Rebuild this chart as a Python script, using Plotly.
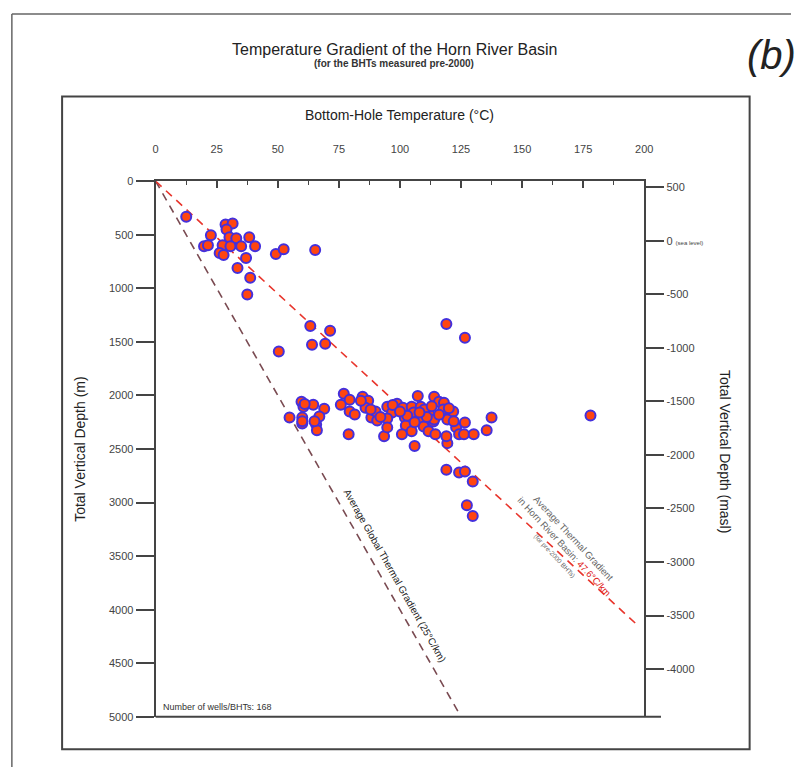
import plotly.graph_objects as go

# ---------------- data ----------------
temp_c = [
    12.5, 28.6, 31.5, 29.0, 22.6, 19.8, 21.4, 27.4, 30.2, 33.0, 38.3, 30.6, 35.0, 40.7,
    26.2, 27.8, 37.0, 33.5, 38.7, 37.5, 49.2, 52.4, 65.3,
    63.3, 71.4, 64.0, 69.4, 50.4, 119.0, 126.6, 178.0,
    54.8, 59.7, 60.5, 64.5, 69.0, 60.0, 60.0, 65.7, 66.0, 67.0, 77.0, 79.4, 75.8, 79.4,
    81.5, 79.0, 84.7, 87.0, 85.9, 88.3, 90.7, 94.8, 96.8, 94.8, 93.5, 94.8, 98.8, 101.2,
    102.0, 102.4, 100.8, 104.8, 105.6, 104.8, 106.0, 107.3, 108.5, 108.0, 109.7, 112.0,
    111.7, 114.5, 113.7, 114.0, 116.0, 118.0, 117.7, 114.0, 119.4, 119.4, 119.0, 121.8,
    123.0, 124.2, 126.6, 126.2, 130.2, 135.5, 137.5, 119.0, 124.2, 126.6, 129.8, 127.4,
    129.8,
    90.0, 92.0, 97.0, 103.0, 106.0, 110.0, 111.0, 116.0, 120.0, 122.0, 88.0, 84.0, 100.0,
    108.0, 113.0, 60.0, 65.0, 61.0,
]
depth_m = [
    331, 404, 395, 450, 505, 607, 598, 597, 524, 533, 524, 607, 607, 607,
    671, 689, 717, 809, 900, 1057, 680, 634, 643,
    1351, 1397, 1526, 1517, 1590, 1333, 1461, 2188,
    2206, 2059, 2105, 2086, 2123, 2206, 2261, 2270, 2325, 2197, 1985, 2040, 2086, 2150,
    2178, 2362, 2013, 2050, 2114, 2206, 2233, 2105, 2160, 2215, 2380, 2298, 2077, 2114,
    2206, 2280, 2362, 2105, 2160, 2335, 2472, 2004, 2105, 2224, 2289, 2178,
    2335, 2362, 2243, 2013, 2059, 2068, 2132, 2224, 2224, 2445, 2380, 2150,
    2298, 2362, 2252, 2362, 2362, 2325, 2206, 2693, 2720, 2711, 2803, 3024,
    3125,
    2150, 2200, 2090, 2190, 2250, 2130, 2200, 2180, 2120, 2240, 2130, 2050, 2150,
    2160, 2100, 2240, 2240, 2080,
]

global_grad_depth = [0, 5000]
global_grad_temp = [0, 125]          # 25 degC/km
basin_grad_depth = [0, 4150]
basin_grad_temp = [0, 197.5]         # 47.6 degC/km

x_ticks = [0, 25, 50, 75, 100, 125, 150, 175, 200]
left_ticks = [0, 500, 1000, 1500, 2000, 2500, 3000, 3500, 4000, 4500, 5000]
right_ticks = [500, 0, -500, -1000, -1500, -2000, -2500, -3000, -3500, -4000]
right_ticktext = ["500", "0 <span style='font-size:6px'>(sea level)</span>", "-500", "-1000",
                  "-1500", "-2000", "-2500", "-3000", "-3500", "-4000"]

# ---------------- layout helpers ----------------
W, H = 800, 773
def px(x):
    return x / W
def py(y):
    return 1 - y / H

X0, X1 = 155, 651
Y0, Y1 = 178, 722
FONT = "Liberation Sans, Arial, sans-serif"
AX = "#444444"

fig = go.Figure()

fig.add_trace(go.Scatter(
    x=global_grad_temp, y=global_grad_depth, mode="lines",
    line=dict(color="#7a4b52", width=1.6, dash="8px,6px"), hoverinfo="skip"))
fig.add_trace(go.Scatter(
    x=basin_grad_temp, y=basin_grad_depth, mode="lines",
    line=dict(color="#e8352c", width=1.6, dash="8px,6px"), hoverinfo="skip"))
fig.add_trace(go.Scatter(
    x=temp_c, y=depth_m, mode="markers",
    marker=dict(size=10, color="#ff4510", line=dict(color="#4430dc", width=2)),
    hoverinfo="x+y"))
# invisible trace to activate the right axis
fig.add_trace(go.Scatter(x=[None], y=[None], yaxis="y2", showlegend=False))

fig.update_layout(
    width=W, height=H,
    margin=dict(l=0, r=0, t=0, b=0),
    paper_bgcolor="white", plot_bgcolor="white",
    showlegend=False,
    font=dict(family=FONT, color="#333333"),
    xaxis=dict(
        domain=[px(X0), px(X1)], side="top", range=[0, 200],
        tickvals=x_ticks, ticks="inside", ticklen=7, tickwidth=1.5, tickcolor=AX,
        showline=True, linecolor=AX, linewidth=2, showgrid=False, zeroline=False,
        tickfont=dict(size=11, color="#444444"), ticklabelstandoff=22,
        minor=dict(dtick=12.5, ticks="inside", ticklen=4, tickcolor=AX, tickwidth=1.2, showgrid=False),
    ),
    yaxis=dict(
        domain=[py(Y1), py(Y0)], range=[5000, 0],
        tickvals=left_ticks, ticks="outside", ticklen=18, tickwidth=1.5, tickcolor=AX,
        showline=True, linecolor=AX, linewidth=2, showgrid=False, zeroline=False,
        tickfont=dict(size=11, color="#444444"),
    ),
    yaxis2=dict(
        overlaying="y", side="right", anchor="x", range=[-4445, 555],
        tickvals=right_ticks, ticktext=right_ticktext,
        ticks="outside", ticklen=18, tickwidth=1.5, tickcolor=AX,
        showline=True, linecolor=AX, linewidth=2, showgrid=False, zeroline=False,
        tickfont=dict(size=11, color="#444444"),
    ),
)

shapes = [
    # inner frame
    dict(type="rect", xref="paper", yref="paper", x0=px(60), x1=px(758), y0=py(755), y1=py(92),
         line=dict(color="#444444", width=2)),
    # outer border (left and top)
    dict(type="line", xref="paper", yref="paper", x0=px(9), x1=px(9), y0=py(8), y1=0,
         line=dict(color="#666666", width=1.5)),
    dict(type="line", xref="paper", yref="paper", x0=px(9), x1=1, y0=py(8), y1=py(8),
         line=dict(color="#666666", width=1.5)),
    # bottom boundary of plot
    dict(type="line", xref="paper", yref="paper", x0=px(X0), x1=px(668), y0=py(Y1), y1=py(Y1),
         line=dict(color=AX, width=2)),
]
fig.update_layout(shapes=shapes)

ann = [
    dict(text="Temperature Gradient of the Horn River Basin", x=px(397), y=py(44),
         font=dict(size=16, color="#222222")),
    dict(text="<b>(for the BHTs measured pre-2000)</b>", x=px(397), y=py(58),
         font=dict(size=10, color="#333333")),
    dict(text="<i>(b)</i>", x=px(780), y=py(50), font=dict(size=40, color="#222222")),
    dict(text="Bottom-Hole Temperature (°C)", x=px(403), y=py(111),
         font=dict(size=14, color="#222222")),
    dict(text="Total Vertical Depth (m)", x=px(78), y=py(450), textangle=-90,
         font=dict(size=14, color="#222222")),
    dict(text="Total Vertical Depth (masl)", x=px(733), y=py(452), textangle=90,
         font=dict(size=14, color="#222222")),
    dict(text="Number of wells/BHTs: 168", x=px(160), y=py(712), xanchor="left",
         font=dict(size=9, color="#333333")),
    dict(text="Average Global Thermal Gradient (25°C/km)", x=px(398), y=py(578), textangle=60.5,
         font=dict(size=10, color="#222222")),
    dict(text="Average Thermal Gradient<br>in Horn River Basin: <span style='color:#e02020'>47.6°C/km</span>"
              "<br><span style='font-size:6.5px'>(for pre-2000 BHTs)</span>",
         x=px(570), y=py(550), textangle=47,
         font=dict(size=9.5, color="#666666")),
]
for a in ann:
    a.setdefault("xanchor", "center")
    a.update(xref="paper", yref="paper", showarrow=False, yanchor="middle")
    fig.add_annotation(**a)

fig.write_html("out.html")
